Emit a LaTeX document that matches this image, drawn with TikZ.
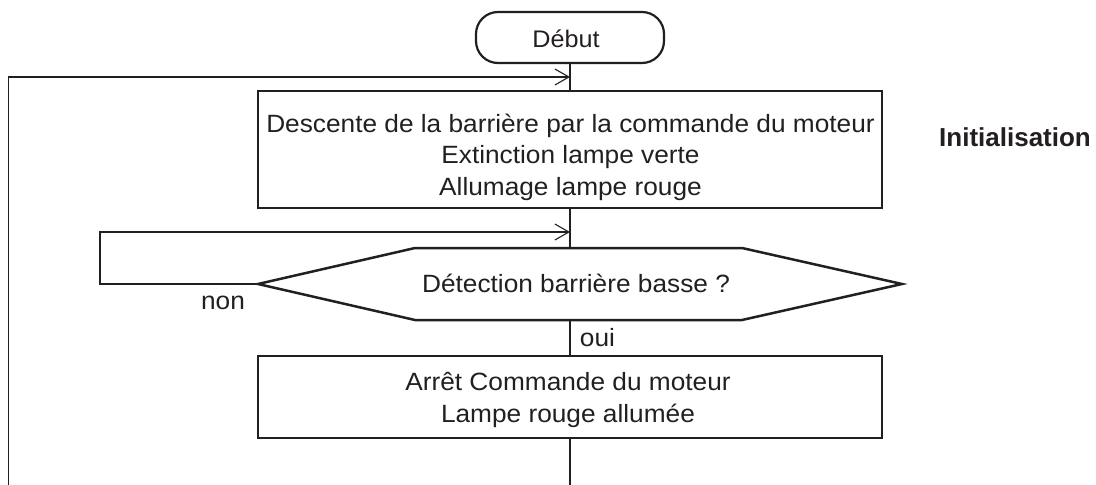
\documentclass[tikz,border=0pt]{standalone}
\usepackage{fontspec}
\setmainfont{Liberation Sans}
\newfontfamily\wideface{Liberation Sans}[FakeStretch=1.05]
\usetikzlibrary{arrows.meta}
\definecolor{ink}{HTML}{231F20}
\begin{document}
\begin{tikzpicture}[x=1pt,y=-1pt,
  every node/.style={text=ink},
  txt/.style={font=\wideface\fontsize{25}{31}\selectfont, anchor=base, inner sep=0pt},
  procbox/.style={draw=ink, line width=2.5pt, minimum width=624pt, inner sep=0pt},
  startbox/.style={draw=ink, line width=2.2pt, rounded corners=22pt,
    minimum width=188pt, minimum height=51pt, inner sep=0pt},
  flow/.style={draw=ink, line width=1.1pt},
  flowarrow/.style={flow, -{Straight Barb[length=14pt,width=16pt,line width=1.1pt]}},
]
\useasboundingbox (0,0) rectangle (1096,485);

% start terminal
\node[startbox] (debut) at (570,37.5) {};
\node[txt, font=\wideface\fontsize{24}{28}\selectfont] (debutTxt) at (566,47) {Début};

% first action box
\node[procbox, minimum height=117pt] (init) at (570,149.5) {};
\node[txt] (initA) at (570.5,132) {Descente de la barrière par la commande du moteur};
\node[txt] (initB) at (570.5,163.5) {Extinction lampe verte};
\node[txt] (initC) at (570.5,195) {Allumage lampe rouge};

% decision hexagon
\coordinate (hL) at (258,284);
\coordinate (hTL) at (415,248);
\coordinate (hTR) at (742,248);
\coordinate (hR) at (902,284);
\coordinate (hBR) at (742,320);
\coordinate (hBL) at (415,320);
\draw[ink, line width=2.5pt, line join=miter] (hL) -- (hTL) -- (hTR) -- (hR) -- (hBR) -- (hBL) -- cycle;
\node[txt] (test) at (576,292) {Détection barrière basse ?};
\coordinate (hTop) at (570,248);
\coordinate (hBot) at (570,320);

% second action box
\node[procbox, minimum height=82pt] (stop) at (570,397) {};
\node[txt] (stopA) at (568,390) {Arrêt Commande du moteur};
\node[txt] (stopB) at (568,422) {Lampe rouge allumée};

% connectors
\coordinate (j1) at (570,77);
\coordinate (j2) at (570,232);
\coordinate (outerEnd) at (8.5,485);
\coordinate (bottomEnd) at (570,485);
\draw[flow] (debut.south) -- (init.north);
\draw[flowarrow] (outerEnd) -- (8.5,77) -- (j1);
\draw[flow] (init.south) -- (hTop);
\draw[flowarrow] (hL) -- (100,284) -- (100,232) -- (j2);
\draw[flow] (hBot) -- (stop.north);
\draw[flow] (stop.south) -- (bottomEnd);

% branch labels
\node[txt] (non) at (223,309) {non};
\node[txt] (oui) at (597.5,346) {oui};

% phase label
\node[font=\fontsize{26}{30}\selectfont\bfseries, anchor=base, inner sep=0pt] (phase) at (1015,146) {Initialisation};
\end{tikzpicture}
\end{document}
